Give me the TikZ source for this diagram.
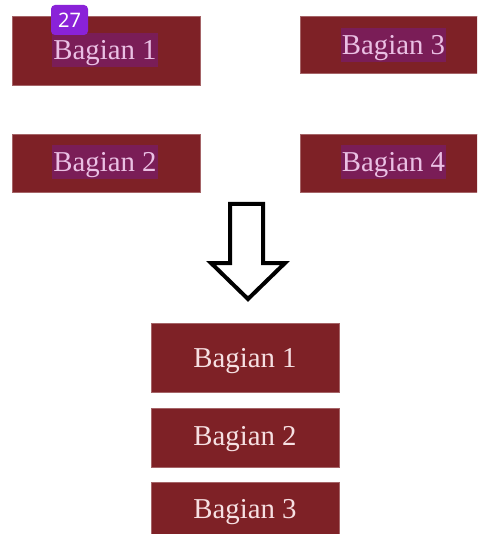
\documentclass[tikz,border=0pt]{standalone}
\usepackage{fontspec}
\setmainfont{Liberation Serif}
\newfontfamily\badgefont{Noto Sans}
\definecolor{boxred}{HTML}{7E2126}
\definecolor{hilite}{HTML}{7A1D57}
\definecolor{toptext}{HTML}{EAC0E4}
\definecolor{bottext}{HTML}{F6E0E2}
\definecolor{badgepurple}{HTML}{8A22D8}
\begin{document}
\begin{tikzpicture}[x=1pt,y=-1pt,
  redbox/.style={rectangle, fill=boxred, draw=boxred!70!white, line width=0.6pt, inner sep=0pt, minimum width=188pt},
  toplabel/.style={anchor=base, fill=hilite, text=toptext, inner xsep=1pt, inner ysep=0pt, text height=27pt, text depth=7pt, font=\fontsize{28.8}{30}\selectfont},
  botlabel/.style={anchor=base, text=bottext, inner sep=0pt, font=\fontsize{28.8}{30}\selectfont},
  badge/.style={rectangle, rounded corners=4pt, fill=badgepurple, text=white, minimum width=37pt, minimum height=30pt, inner sep=0pt, font=\badgefont\fontsize{20}{22}\selectfont}
]
\useasboundingbox (0,0) rectangle (477,534);
\begin{scope}
\clip (0,0) rectangle (477,534);
% top boxes
\node[redbox, minimum height=69pt] (b1) at (106,50.5) {};
\node[redbox, minimum height=58pt] (b2) at (106,163) {};
\node[redbox, minimum width=186pt, minimum height=57pt] (b3) at (393,44.5) {};
\node[redbox, minimum width=186pt, minimum height=58pt] (b4) at (393,163) {};
\node[toplabel] (t1) at (105,60) {Bagian 1};
\node[toplabel] (t2) at (105,172) {Bagian 2};
\node[toplabel] (t3) at (393.5,55) {Bagian 3};
\node[toplabel] (t4) at (393.5,172) {Bagian 4};
% arrow
\draw[line width=4pt, line join=miter, fill=white]
  (230,204) -- (263,204) -- (263,263) -- (285,263) -- (248,299)
  -- (211,263) -- (230,263) -- cycle;
% bottom boxes
\node[redbox, minimum height=69pt] (c1) at (245,357.5) {};
\node[redbox, minimum height=59pt] (c2) at (245,437.5) {};
\node[redbox, minimum height=60pt] (c3) at (245,512) {};
\node[botlabel] (u1) at (245,367) {Bagian 1};
\node[botlabel] (u2) at (245,445) {Bagian 2};
\node[botlabel] (u3) at (245,518) {Bagian 3};
% badge
\node[badge] (badge) at (69.5,20) {27};
\end{scope}
\end{tikzpicture}
\end{document}
